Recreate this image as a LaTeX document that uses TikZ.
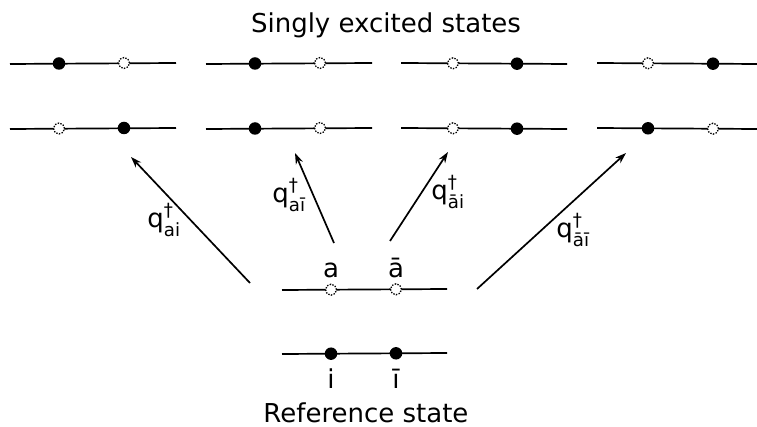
\documentclass[tikz,border=0pt]{standalone}
\usepackage{fontspec}
\usepackage{amsmath}
\setmainfont{DejaVu Sans}
\usetikzlibrary{arrows.meta}
\begin{document}
\begin{tikzpicture}[x=1pt,y=-1pt,
  level/.style={line width=1.7pt},
  occ/.style={circle,fill=black,inner sep=0pt,minimum size=12.5pt},
  vac/.style={circle,draw=black,fill=white,dash pattern=on 1.4pt off 1.4pt,line width=1.3pt,inner sep=0pt,minimum size=11pt},
  exc/.style={-{Stealth[length=11pt,width=7.5pt]},line width=1.7pt},
  txt/.style={font=\fontsize{26}{31}\selectfont,inner sep=0pt},
  qlbl/.style={font=\fontsize{26}{31}\selectfont,inner sep=0pt}]
\useasboundingbox (0,0) rectangle (757,427);

% title
\node[txt,anchor=base] (title) at (386,33) {Singly excited states};

% column 1
\draw[level] (10,64) coordinate (c1ua) -- (176,63) coordinate (c1ub);
\node[occ] (c1u1) at (59,63.5) {};
\node[vac] (c1u2) at (124,63) {};
\draw[level] (10,129) coordinate (c1la) -- (176,128) coordinate (c1lb);
\node[vac] (c1l1) at (59,128.5) {};
\node[occ] (c1l2) at (124,128) {};

% column 2
\draw[level] (206,64) coordinate (c2ua) -- (372,63) coordinate (c2ub);
\node[occ] (c2u1) at (255,63.5) {};
\node[vac] (c2u2) at (320,63) {};
\draw[level] (206,129) coordinate (c2la) -- (372,128) coordinate (c2lb);
\node[occ] (c2l1) at (255,128.5) {};
\node[vac] (c2l2) at (320,128) {};

% column 3
\draw[level] (401,63) coordinate (c3ua) -- (567,64) coordinate (c3ub);
\node[vac] (c3u1) at (453,63.3) {};
\node[occ] (c3u2) at (517,63.7) {};
\draw[level] (401,128) coordinate (c3la) -- (567,129) coordinate (c3lb);
\node[vac] (c3l1) at (453,128.3) {};
\node[occ] (c3l2) at (517,128.7) {};

% column 4
\draw[level] (597,63) coordinate (c4ua) -- (757,64) coordinate (c4ub);
\node[vac] (c4u1) at (648,63.3) {};
\node[occ] (c4u2) at (713,63.7) {};
\draw[level] (597,128) coordinate (c4la) -- (757,129) coordinate (c4lb);
\node[occ] (c4l1) at (648,128.3) {};
\node[vac] (c4l2) at (713,128.7) {};

% reference state
\draw[level] (282,290) coordinate (rua) -- (447,289) coordinate (rub);
\node[vac] (ra) at (331,289.7) {};
\node[vac] (rab) at (396,289.3) {};
\draw[level] (282,354) coordinate (rla) -- (447,353) coordinate (rlb);
\node[occ] (ri) at (331,353.7) {};
\node[occ] (rib) at (396,353.3) {};

\node[txt,anchor=base] (la) at (331,278) {a};
\node[txt,anchor=base] (lab) at (396,278) {ā};
\node[txt,anchor=base] (li) at (331,388) {i};
\node[txt,anchor=base] (lib) at (396,388) {ī};
\node[txt,anchor=base] (ref) at (366,422) {Reference state};

% excitation arrows
\coordinate (s1) at (250,283); \coordinate (e1) at (131,157);
\coordinate (s2) at (334,243); \coordinate (e2) at (295,153);
\coordinate (s3) at (390,241); \coordinate (e3) at (448,152);
\coordinate (s4) at (477,289); \coordinate (e4) at (626,153);
\draw[exc] (s1) -- (e1);
\draw[exc] (s2) -- (e2);
\draw[exc] (s3) -- (e3);
\draw[exc] (s4) -- (e4);

\node[qlbl] (q1) at (164,220) {q$^{\text{†}}_{\text{ai}}$};
\node[qlbl] (q2) at (289,195) {q$^{\text{†}}_{\text{aī}}$};
\node[qlbl] (q3) at (448,192) {q$^{\text{†}}_{\text{āi}}$};
\node[qlbl] (q4) at (573,230) {q$^{\text{†}}_{\text{āī}}$};
\end{tikzpicture}
\end{document}
